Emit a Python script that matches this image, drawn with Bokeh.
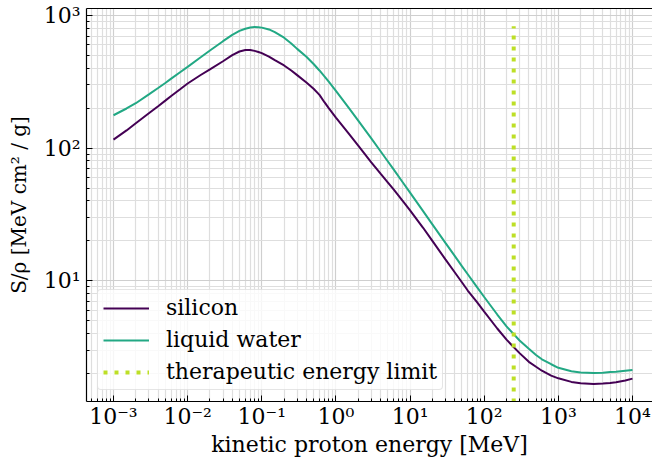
from bokeh.plotting import figure
from bokeh.models import LogAxis, FixedTicker, CustomJSTickFormatter, Range1d
from bokeh.embed import file_html
from bokeh.resources import INLINE

# ---- data ----
energy_mev = [0.001, 0.0015, 0.002, 0.003, 0.004, 0.005, 0.006, 0.008, 0.01, 0.015,
              0.02, 0.03, 0.04, 0.05, 0.06, 0.07, 0.08, 0.09, 0.1, 0.125,
              0.15, 0.2, 0.25, 0.3, 0.4, 0.5, 0.6, 0.7, 0.8, 1.0,
              1.5, 2.0, 3.0, 4.0, 5.0, 6.0, 8.0, 10.0, 15.0, 20.0,
              30.0, 40.0, 50.0, 60.0, 80.0, 100.0, 150.0, 200.0, 300.0, 400.0,
              500.0, 600.0, 800.0, 1000.0, 1500.0, 2000.0, 3000.0, 4000.0, 5000.0, 6000.0,
              8000.0, 10000.0]

silicon = [116, 136, 154, 183, 207, 228, 247, 279, 307, 356,
           393, 452, 502, 535, 549, 549, 541, 531, 520, 490,
           460, 420, 385, 355, 312, 280, 252, 222, 200, 170,
           128, 104.6, 78.2, 64.3, 55.3, 48.8, 39.9, 34.0, 25.1, 20.0,
           14.5, 11.6, 9.75, 8.45, 6.9, 5.85, 4.37, 3.6, 2.85, 2.45,
           2.25, 2.1, 1.93, 1.84, 1.73, 1.69, 1.67, 1.68, 1.70, 1.72,
           1.77, 1.83]

liquid_water = [177, 199, 218, 254, 284, 310, 334, 375, 410, 484,
                545, 640, 715, 765, 795, 812, 818, 816, 810, 785,
                750, 680, 615, 560, 488, 431, 385, 348, 317, 270,
                200, 161, 118.4, 94.8, 79.7, 69.1, 55.1, 46.2, 33.5, 26.6,
                19.3, 15.4, 12.9, 11.2, 8.96, 7.55, 5.57, 4.53, 3.55, 3.07,
                2.76, 2.56, 2.35, 2.21, 2.08, 2.04, 2.02, 2.03, 2.05, 2.06,
                2.10, 2.13]

therapeutic_limit_mev = 250
therapeutic_line_y = [1.0, 830.0]

x_ticks = [1e-3, 1e-2, 1e-1, 1e0, 1e1, 1e2, 1e3, 1e4]
x_tick_labels = ["10\u207b\u00b3", "10\u207b\u00b2", "10\u207b\u00b9", "10\u2070",
                 "10\u00b9", "10\u00b2", "10\u00b3", "10\u2074"]
y_ticks = [1e1, 1e2, 1e3]
y_tick_labels = ["10\u00b9", "10\u00b2", "10\u00b3"]

series_names = ["silicon", "liquid water", "therapeutic energy limit"]
colors = ["#440154", "#22a884", "#bddf26"]

FONT = "DejaVu Serif"
FS = "22px"


def minor_list(lo_exp, hi_exp):
    out = []
    for k in range(lo_exp, hi_exp + 1):
        for m in range(2, 10):
            out.append(m * 10.0 ** k)
    return out


fmt_code = """
let best = ''; let bd = 1e9;
for (let i = 0; i < tvals.length; i++) {
  const d = Math.abs(Math.log10(tick) - Math.log10(tvals[i]));
  if (d < bd) { bd = d; best = tlabels[i]; }
}
return bd < 1e-6 ? best : '';
"""

p = figure(width=652, height=459,
           x_axis_type="log", y_axis_type="log",
           x_range=Range1d(10 ** -3.364, 10 ** 4.27),
           y_range=Range1d(10 ** 0.0902, 10 ** 3.0526),
           output_backend="svg", toolbar_location=None,
           min_border_left=86, min_border_right=0,
           min_border_top=8, min_border_bottom=57,
           x_axis_label="kinetic proton energy [MeV]",
           y_axis_label="S/\u03c1 [MeV cm\u00b2 / g]")
p.outline_line_color = None
p.background_fill_color = "white"
p.border_fill_color = "white"

p.xaxis.ticker = FixedTicker(ticks=x_ticks, minor_ticks=minor_list(-4, 4))
p.yaxis.ticker = FixedTicker(ticks=y_ticks, minor_ticks=minor_list(0, 3))
p.xaxis.formatter = CustomJSTickFormatter(args=dict(tvals=x_ticks, tlabels=x_tick_labels), code=fmt_code)
p.yaxis.formatter = CustomJSTickFormatter(args=dict(tvals=y_ticks, tlabels=y_tick_labels), code=fmt_code)

for ax in (p.xaxis[0], p.yaxis[0]):
    ax.major_tick_in = 6
    ax.major_tick_out = 0
    ax.minor_tick_in = 3
    ax.minor_tick_out = 0
    ax.axis_line_color = "black"
    ax.axis_line_width = 1.2
    ax.major_tick_line_color = "black"
    ax.minor_tick_line_color = "black"
    ax.major_label_text_font = FONT
    ax.major_label_text_font_size = FS
    ax.major_label_text_color = "black"
    ax.axis_label_text_font = FONT
    ax.axis_label_text_font_size = FS
    ax.axis_label_text_font_style = "normal"
    ax.axis_label_text_color = "black"
p.yaxis.axis_label_text_font_size = "20px"
p.xaxis.major_label_standoff = 2
p.xaxis.axis_label_standoff = 0
p.yaxis.major_label_standoff = 6
p.yaxis.axis_label_standoff = 10

top = LogAxis(ticker=FixedTicker(ticks=[]), axis_line_color="black", axis_line_width=1.2,
              major_tick_line_color=None, minor_tick_line_color=None,
              major_label_text_font_size="0px", major_label_standoff=0)
p.add_layout(top, "above")

for g in (p.xgrid[0], p.ygrid[0]):
    g.grid_line_color = "#cfcfcf"
    g.grid_line_width = 1.2
    g.minor_grid_line_color = "#dedede"
    g.minor_grid_line_width = 1.2

p.line(energy_mev, silicon, line_color=colors[0], line_width=2, legend_label=series_names[0])
p.line(energy_mev, liquid_water, line_color=colors[1], line_width=2, legend_label=series_names[1])
p.line([therapeutic_limit_mev, therapeutic_limit_mev], therapeutic_line_y, line_color=colors[2],
       line_width=4, line_dash="4 7", legend_label=series_names[2])

lg = p.legend[0]
lg.location = (11, 11)
lg.label_text_font = FONT
lg.label_text_font_size = FS
lg.label_text_color = "black"
lg.glyph_width = 46
lg.glyph_height = 24
lg.spacing = 7
lg.padding = 5
lg.margin = 0
lg.label_standoff = 17
lg.border_line_color = "#cccccc"
lg.border_line_width = 1
lg.border_radius = 4
lg.background_fill_color = "white"
lg.background_fill_alpha = 0.8

open("out.html", "w").write(file_html(p, INLINE))
